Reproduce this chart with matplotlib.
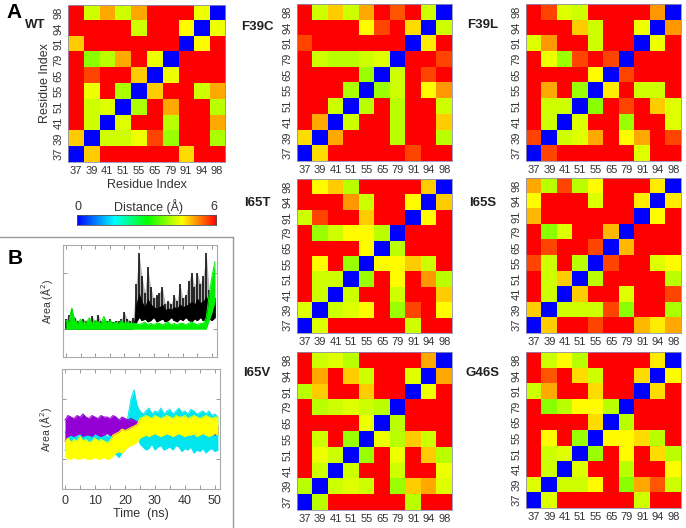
import numpy as np
import matplotlib
matplotlib.use('Agg')
import matplotlib.pyplot as plt
from matplotlib.colors import LinearSegmentedColormap
from matplotlib.lines import Line2D

plt.rcParams['font.family'] = ['Liberation Sans', 'DejaVu Sans']

residues = ['37', '39', '41', '51', '55', '65', '79', '91', '94', '98']

# distance maps (A), rows listed from residue 98 (top) down to 37 (bottom)
wt = [
    [6.0, 4.2, 5.0, 4.2, 5.0, 6.0, 6.0, 6.0, 4.4, 0.0],
    [6.0, 6.0, 6.0, 6.0, 4.2, 6.0, 6.0, 4.5, 0.0, 4.4],
    [4.8, 6.0, 6.0, 6.0, 6.0, 6.0, 6.0, 0.0, 4.5, 6.0],
    [6.0, 3.8, 4.1, 5.0, 6.0, 4.4, 0.0, 6.0, 6.0, 6.0],
    [6.0, 5.6, 6.0, 6.0, 4.8, 0.0, 4.4, 6.0, 6.0, 6.0],
    [6.0, 4.4, 6.0, 4.0, 0.0, 4.8, 6.0, 6.0, 4.2, 5.0],
    [6.0, 4.2, 4.3, 0.0, 4.0, 6.0, 5.0, 6.0, 6.0, 4.1],
    [6.0, 4.2, 0.0, 4.3, 6.0, 6.0, 4.1, 6.0, 6.0, 5.0],
    [4.8, 0.0, 4.2, 4.2, 4.4, 5.6, 3.9, 6.0, 6.0, 4.0],
    [0.0, 4.8, 6.0, 6.0, 6.0, 6.0, 6.0, 4.7, 6.0, 6.0],
]
f39c = [
    [6.0, 4.2, 4.8, 4.2, 5.0, 6.0, 5.5, 6.0, 4.2, 0.0],
    [6.0, 6.0, 6.0, 6.0, 4.5, 5.6, 6.0, 4.7, 0.0, 4.2],
    [5.6, 6.0, 6.0, 6.0, 6.0, 6.0, 6.0, 0.0, 4.6, 6.0],
    [6.0, 4.2, 4.1, 4.1, 4.2, 4.3, 0.0, 6.0, 6.0, 5.6],
    [6.0, 6.0, 6.0, 6.0, 3.9, 0.0, 4.2, 6.0, 5.6, 6.0],
    [6.0, 6.0, 6.0, 4.0, 0.0, 3.9, 4.2, 6.0, 4.5, 5.1],
    [6.0, 6.0, 4.2, 0.0, 4.1, 6.0, 4.1, 6.0, 6.0, 4.2],
    [6.0, 5.0, 0.0, 4.2, 6.0, 6.0, 4.1, 6.0, 6.0, 4.8],
    [4.7, 0.0, 5.0, 6.0, 6.0, 6.0, 4.1, 6.0, 6.0, 4.1],
    [0.0, 4.7, 6.0, 6.0, 6.0, 6.0, 6.0, 5.6, 6.0, 6.0],
]
f39l = [
    [6.0, 5.6, 4.3, 4.2, 6.0, 6.0, 6.0, 6.0, 5.1, 0.0],
    [6.0, 6.0, 6.0, 4.8, 4.2, 6.0, 6.0, 4.4, 0.0, 5.1],
    [4.3, 5.1, 6.0, 6.0, 4.2, 6.0, 6.0, 0.0, 4.4, 6.0],
    [6.0, 4.4, 3.9, 5.6, 6.0, 5.6, 0.0, 6.0, 6.0, 6.0],
    [6.0, 6.0, 6.0, 6.0, 4.5, 0.0, 5.6, 6.0, 6.0, 6.0],
    [6.0, 5.0, 6.0, 3.9, 0.0, 4.6, 6.0, 4.2, 4.2, 6.0],
    [6.0, 4.2, 4.2, 0.0, 3.8, 6.0, 5.6, 6.0, 4.8, 4.3],
    [6.0, 4.2, 0.0, 4.3, 6.0, 6.0, 3.9, 6.0, 6.0, 4.3],
    [5.6, 0.0, 4.2, 4.3, 5.0, 6.0, 4.5, 5.0, 6.0, 5.6],
    [0.0, 5.6, 6.0, 6.0, 6.0, 6.0, 6.0, 4.3, 6.0, 6.0],
]
i65t = [
    [6.0, 4.5, 4.8, 4.1, 6.0, 6.0, 6.0, 6.0, 4.8, 0.0],
    [6.0, 6.0, 6.0, 5.1, 4.2, 6.0, 6.0, 4.5, 0.0, 4.8],
    [4.2, 5.6, 6.0, 6.0, 4.8, 6.0, 6.0, 0.0, 4.5, 6.0],
    [6.0, 3.9, 4.2, 4.5, 4.5, 4.1, 0.0, 6.0, 6.0, 6.0],
    [6.0, 6.0, 6.0, 6.0, 4.5, 0.0, 4.1, 6.0, 6.0, 6.0],
    [6.0, 4.5, 6.0, 3.9, 0.0, 4.5, 4.5, 4.8, 4.2, 6.0],
    [6.0, 4.2, 4.2, 0.0, 3.9, 6.0, 4.5, 6.0, 5.1, 4.1],
    [6.0, 4.2, 0.0, 4.2, 6.0, 6.0, 4.2, 6.0, 6.0, 4.8],
    [4.3, 0.0, 4.2, 4.3, 4.5, 6.0, 3.9, 5.6, 6.0, 4.5],
    [0.0, 4.3, 6.0, 6.0, 6.0, 6.0, 6.0, 4.2, 6.0, 6.0],
]
i65s = [
    [5.0, 4.1, 5.6, 4.1, 4.5, 6.0, 6.0, 6.0, 4.6, 0.0],
    [4.5, 6.0, 6.0, 6.0, 4.3, 6.0, 6.0, 4.6, 0.0, 4.6],
    [4.9, 6.0, 6.0, 6.0, 6.0, 6.0, 6.0, 0.0, 4.5, 6.0],
    [6.0, 3.8, 4.3, 6.0, 6.0, 4.9, 0.0, 6.0, 6.0, 6.0],
    [6.0, 5.6, 6.0, 6.0, 5.6, 0.0, 4.9, 6.0, 6.0, 6.0],
    [5.6, 4.2, 6.0, 4.1, 0.0, 5.6, 6.0, 6.0, 4.3, 4.5],
    [6.0, 4.2, 4.8, 0.0, 4.1, 6.0, 6.0, 6.0, 6.0, 4.1],
    [6.0, 4.2, 0.0, 4.8, 6.0, 6.0, 4.3, 6.0, 6.0, 5.6],
    [4.8, 0.0, 4.2, 4.2, 4.2, 5.6, 3.8, 6.0, 6.0, 4.0],
    [0.0, 4.8, 6.0, 6.0, 5.6, 6.0, 6.0, 4.9, 4.6, 5.0],
]
i65v = [
    [6.0, 4.2, 4.3, 4.1, 6.0, 6.0, 6.0, 6.0, 5.0, 0.0],
    [6.0, 5.0, 6.0, 4.8, 4.2, 6.0, 6.0, 4.3, 0.0, 5.0],
    [4.1, 4.8, 6.0, 6.0, 4.8, 6.0, 6.0, 0.0, 4.4, 6.0],
    [6.0, 4.1, 4.2, 4.3, 4.2, 4.1, 0.0, 6.0, 6.0, 6.0],
    [6.0, 6.0, 6.0, 6.0, 4.4, 0.0, 4.1, 6.0, 6.0, 6.0],
    [6.0, 4.2, 6.0, 3.9, 0.0, 4.4, 4.1, 4.8, 4.2, 6.0],
    [6.0, 4.4, 4.2, 0.0, 3.9, 6.0, 4.4, 6.0, 4.8, 4.1],
    [6.0, 4.2, 0.0, 4.2, 6.0, 6.0, 4.2, 6.0, 6.0, 4.4],
    [4.1, 0.0, 4.2, 4.3, 4.2, 6.0, 3.9, 4.8, 5.0, 4.3],
    [0.0, 4.1, 6.0, 6.0, 6.0, 6.0, 6.0, 4.1, 6.0, 6.0],
]
g46s = [
    [6.0, 4.2, 4.5, 4.1, 6.0, 6.0, 6.0, 6.0, 4.6, 0.0],
    [6.0, 5.5, 6.0, 4.7, 4.2, 6.0, 6.0, 4.7, 0.0, 4.5],
    [4.2, 5.0, 6.0, 6.0, 4.7, 6.0, 6.0, 0.0, 4.7, 6.0],
    [6.0, 3.8, 4.1, 4.5, 4.5, 4.1, 0.0, 6.0, 6.0, 6.0],
    [6.0, 6.0, 6.0, 6.0, 4.7, 0.0, 4.1, 6.0, 6.0, 6.0],
    [6.0, 4.5, 6.0, 3.9, 0.0, 4.5, 4.5, 4.7, 4.1, 6.0],
    [6.0, 4.2, 4.3, 0.0, 3.9, 6.0, 4.5, 6.0, 4.7, 4.1],
    [6.0, 4.2, 0.0, 4.3, 6.0, 6.0, 4.1, 6.0, 6.0, 4.5],
    [4.3, 0.0, 4.2, 4.2, 4.5, 6.0, 3.8, 5.0, 5.5, 4.2],
    [0.0, 4.3, 6.0, 6.0, 6.0, 6.0, 6.0, 4.2, 6.0, 6.0],
]

# area traces (arbitrary units): lower / upper edge of each noisy trace, one value per ns, 0..51 ns
black_lo = [1.0, 1.0, 1.0, 1.0, 1.0, 1.0, 1.0, 1.0, 1.0, 1.0, 1.0, 1.0,
            1.0, 1.0, 1.0, 1.0, 1.0, 1.0, 1.0, 1.0, 1.0, 1.0, 1.0, 1.0,
            1.2, 1.4, 1.3, 1.35, 1.25, 1.3, 1.4, 1.25, 1.3, 1.35, 1.25, 1.3, 1.4, 1.3,
            1.25, 1.35, 1.3, 1.4, 1.3, 1.25, 1.35, 1.3, 1.4, 1.3, 1.3, 1.35, 1.3, 1.4]
black_hi = [1.35, 1.5, 1.7, 1.4, 1.3, 1.25, 1.35, 1.3, 1.25, 1.45, 1.3, 1.5,
            1.3, 1.25, 1.3, 1.35, 1.25, 1.3, 1.3, 1.35, 1.6, 1.35, 1.3, 1.4,
            2.6, 3.7, 2.9, 2.3, 3.2, 2.5, 2.1, 2.2, 2.3, 2.5, 1.9, 2.0, 1.9, 2.2,
            2.0, 2.6, 2.1, 2.2, 2.7, 3.0, 2.5, 3.0, 2.6, 2.9, 3.7, 2.4, 2.2, 2.1]
black_mid = [1.1, 1.15, 1.2, 1.1, 1.15, 1.1, 1.15, 1.1, 1.1, 1.2, 1.1, 1.15,
             1.1, 1.1, 1.15, 1.1, 1.1, 1.15, 1.1, 1.15, 1.2, 1.1, 1.15, 1.1,
             1.9, 2.3, 2.0, 1.8, 2.1, 1.9, 1.8, 1.75, 1.8, 1.9, 1.7, 1.75, 1.7, 1.8,
             1.75, 1.9, 1.8, 1.85, 1.9, 2.0, 1.9, 2.1, 1.95, 2.0, 2.2, 1.9, 1.8, 1.8]
green_lo = [1.0, 1.0, 1.0, 1.0, 1.0, 1.0, 1.0, 1.0, 1.0, 1.0, 1.0, 1.0,
            1.0, 1.0, 1.0, 1.0, 1.0, 1.0, 1.0, 1.0, 1.0, 1.0, 1.0, 1.0,
            1.0, 1.0, 1.0, 1.0, 1.0, 1.0, 1.0, 1.0, 1.0, 1.0, 1.0, 1.0,
            1.0, 1.0, 1.0, 1.0, 1.0, 1.0, 1.0, 1.0, 1.0, 1.0, 1.0, 1.0,
            1.0, 1.3, 1.6, 2.0]
green_hi = [1.3, 1.25, 1.75, 1.3, 1.2, 1.35, 1.2, 1.25, 1.4, 1.2, 1.3, 1.25,
            1.2, 1.45, 1.2, 1.3, 1.2, 1.25, 1.2, 1.3, 1.2, 1.25, 1.2, 1.2,
            1.2, 1.15, 1.2, 1.25, 1.15, 1.2, 1.15, 1.2, 1.2, 1.15, 1.2, 1.25,
            1.15, 1.2, 1.15, 1.2, 1.2, 1.15, 1.2, 1.25, 1.2, 1.15, 1.2, 1.2,
            1.4, 2.2, 2.9, 3.4]
cyan_lo = [1.3, 1.2, 1.25, 1.15, 1.2, 1.3, 1.2, 1.15, 1.25, 1.2, 1.05, 1.2,
           1.25, 1.15, 1.2, 1.25, 1.2, 1.15, 1.05, 1.2,
           1.3, 1.5, 1.8, 2.0, 1.9,
           1.5, 1.4, 1.3, 1.35, 1.5, 1.3, 1.4, 1.45, 1.3, 1.35, 1.4, 1.3, 1.45, 1.4,
           1.25, 1.35, 1.3, 1.4, 1.2, 1.3, 1.25, 1.35, 1.2, 1.3, 1.35, 1.25, 1.3]
cyan_hi = [1.9, 1.8, 1.85, 1.8, 1.75, 1.85, 1.8, 1.9, 1.8, 1.75, 1.85, 1.8,
           1.8, 1.85, 1.75, 1.8, 1.85, 1.8, 1.9, 2.0,
           2.2, 2.4, 3.0, 3.3, 2.8,
           2.6, 2.5, 2.6, 2.7, 2.5, 2.6, 2.55, 2.7, 2.5, 2.6, 2.65, 2.5, 2.6, 2.7,
           2.55, 2.6, 2.5, 2.65, 2.6, 2.5, 2.55, 2.6, 2.5, 2.6, 2.45, 2.5, 2.4]
purple_lo = [1.6, 1.75, 1.8, 1.75, 1.8, 1.85, 1.75, 1.8, 1.8, 1.75, 1.85, 1.8,
             1.75, 1.8, 1.85, 1.8, 1.75, 1.8, 1.85, 1.8, 1.9, 1.85, 1.9, 1.95, 1.9,
             1.95, 2.0, 1.9, 2.0, 1.95, 2.0, 1.9, 2.0, 1.95, 2.0, 1.95, 1.9, 1.8, 1.95,
             2.0, 1.95, 1.9, 2.0, 1.95, 2.0, 1.9, 1.95, 2.0, 1.9, 1.85, 1.8, 1.85]
purple_hi = [2.3, 2.45, 2.4, 2.35, 2.45, 2.4, 2.5, 2.4, 2.35, 2.45, 2.4, 2.35,
             2.45, 2.4, 2.4, 2.35, 2.45, 2.4, 2.3, 2.4, 2.35, 2.3, 2.35, 2.3, 2.25,
             2.2, 2.25, 2.2, 2.15, 2.2, 2.25, 2.2, 2.15, 2.2, 2.2, 2.25, 2.2, 2.1, 2.2,
             2.25, 2.2, 2.15, 2.2, 2.2, 2.25, 2.2, 2.15, 2.2, 2.2, 2.1, 2.05, 2.1]
yellow_lo = [1.1, 1.0, 1.0, 1.05, 1.0, 1.0, 1.05, 1.0, 1.0, 1.0, 1.05, 1.0,
             1.0, 1.05, 1.0, 1.0,
             1.1, 1.2, 1.25, 1.2, 1.3, 1.4, 1.45, 1.5, 1.55,
             1.7, 1.75, 1.8, 1.75, 1.8, 1.85, 1.8, 1.75, 1.8, 1.85, 1.8, 1.75, 1.8, 1.85,
             1.8, 1.75, 1.8, 1.8, 1.85, 1.75, 1.8, 1.85, 1.8, 1.75, 1.8, 1.85, 1.8]
yellow_hi = [1.6, 1.7, 1.55, 1.65, 1.6, 1.75, 1.6, 1.65, 1.55, 1.6, 1.7, 1.6,
             1.65, 1.6, 1.55, 1.6,
             1.8, 1.85, 1.9, 2.0, 1.95, 2.0, 2.05, 2.1, 2.15,
             2.35, 2.4, 2.45, 2.4, 2.35, 2.45, 2.4, 2.35, 2.4, 2.45, 2.4, 2.35, 2.45, 2.4,
             2.4, 2.45, 2.35, 2.4, 2.45, 2.4, 2.35, 2.4, 2.45, 2.4, 2.35, 2.4, 2.4]

W, H = 686, 528


def rect(x0, y0, x1, y1):
    return [x0 / W, 1 - y1 / H, (x1 - x0) / W, (y1 - y0) / H]


cmap = LinearSegmentedColormap.from_list(
    'dist', [(0, '#0000ff'), (0.27, '#00ffff'), (0.5, '#00ff00'),
             (0.75, '#ffff00'), (1, '#ff0000')])

fig = plt.figure(figsize=(6.86, 5.28), dpi=100)


def heat(mat, box, name, name_xy, wt_labels=False):
    ax = fig.add_axes(rect(*box))
    ax.imshow(np.array(mat), cmap=cmap, vmin=0, vmax=6, aspect='auto',
              interpolation='nearest')
    ax.set_xticks(range(10))
    ax.set_xticklabels(residues, fontsize=8)
    ax.set_yticks(range(10))
    ax.set_yticklabels(residues[::-1], fontsize=8, rotation=90, va='center')
    ax.tick_params(length=0, pad=3, colors='#333333')
    for s in ax.spines.values():
        s.set_color('#9090b0')
        s.set_linewidth(0.6)
    if wt_labels:
        ax.set_xlabel('Residue Index', fontsize=9, color='#333333', labelpad=2)
        ax.set_ylabel('Residue Index', fontsize=9, color='#333333', labelpad=2)
    fig.text(name_xy[0] / W, 1 - name_xy[1] / H, name, fontsize=9.5,
             fontweight='bold', ha='center', va='center', color='#222222')
    return ax


heat(wt, (68, 5, 225, 162), 'WT', (35, 25), wt_labels=True)
heat(f39c, (297, 4, 452, 161), 'F39C', (257, 27))
heat(f39l, (526, 4, 681, 161), 'F39L', (483, 25))
heat(i65t, (297, 179, 452, 333), 'I65T', (257, 203))
heat(i65s, (526, 178, 681, 333), 'I65S', (483, 203))
heat(i65v, (297, 352, 452, 510), 'I65V', (257, 373))
heat(g46s, (526, 352, 681, 508), 'G46S', (483, 373))

fig.text(14 / W, 1 - 13 / H, 'A', fontsize=15, fontweight='bold',
         ha='center', va='center')
fig.text(15 / W, 1 - 258 / H, 'B', fontsize=15, fontweight='bold',
         ha='center', va='center')

# colour bar
cax = fig.add_axes(rect(77, 215, 216, 225))
cax.imshow(np.linspace(0, 6, 256).reshape(1, -1), cmap=cmap, aspect='auto',
           extent=(0, 6, 0, 1))
cax.set_xticks([])
cax.set_yticks([])
for s in cax.spines.values():
    s.set_linewidth(0.6)
    s.set_color('#555555')
fig.text(78 / W, 1 - 207 / H, '0', fontsize=9, ha='center', va='center', color='#333333')
fig.text(214 / W, 1 - 207 / H, '6', fontsize=9, ha='center', va='center', color='#333333')
fig.text(148 / W, 1 - 207 / H, 'Distance (Å)', fontsize=9, ha='center',
         va='center', color='#333333')

# panel B frame
fig.add_artist(Line2D([0, 233 / W], [1 - 237 / H, 1 - 237 / H], color='#999999', lw=1))
fig.add_artist(Line2D([233 / W, 233 / W], [1 - 237 / H, 0], color='#999999', lw=1))


def trace_axes(box):
    ax = fig.add_axes(rect(*box))
    ax.set_xlim(-1, 51.7)
    ax.set_ylim(0, 4)
    ax.set_xticks(np.arange(0, 51, 5))
    ax.set_yticks([1, 3])
    ax.set_yticklabels([])
    ax.tick_params(direction='in', length=3, width=0.6, colors='#888888',
                   top=True, right=True, labelsize=9, labelcolor='#333333', pad=4)
    for s in ax.spines.values():
        s.set_color('#aaaaaa')
        s.set_linewidth(0.8)
    ax.set_ylabel('Area (Å$^2$)', fontsize=7.5, color='#333333', labelpad=2)
    return ax


def band(ax, lo, hi, color, z):
    t = np.arange(len(lo))
    ax.fill_between(t, lo, hi, color=color, lw=0, zorder=z)
    ax.plot(t, hi, color=color, lw=0.7, zorder=z)
    ax.plot(t, lo, color=color, lw=0.7, zorder=z)


ax1 = trace_axes((63, 245, 217, 357))
tb = np.arange(len(black_lo))
ax1.fill_between(tb, black_lo, black_hi, color='#b0b0b0', lw=0, zorder=1)
ax1.vlines(tb, black_lo, black_hi, color='black', lw=1.1, zorder=2)
ax1.fill_between(tb, black_lo, black_mid, color='black', lw=0, zorder=2)
band(ax1, green_lo, green_hi, '#00ee00', 3)
ax1.set_xticklabels([])

ax2 = trace_axes((62, 369, 220, 489))
band(ax2, cyan_lo, cyan_hi, '#00e5ee', 1)
band(ax2, purple_lo, purple_hi, '#9400d3', 2)
band(ax2, yellow_lo, yellow_hi, '#ffff00', 3)
ax2.set_xticklabels(['0', '', '10', '', '20', '', '30', '', '40', '', '50'])
ax2.set_xlabel('Time  (ns)', fontsize=9, color='#333333', labelpad=1)

fig.savefig('out.png', dpi=100)
